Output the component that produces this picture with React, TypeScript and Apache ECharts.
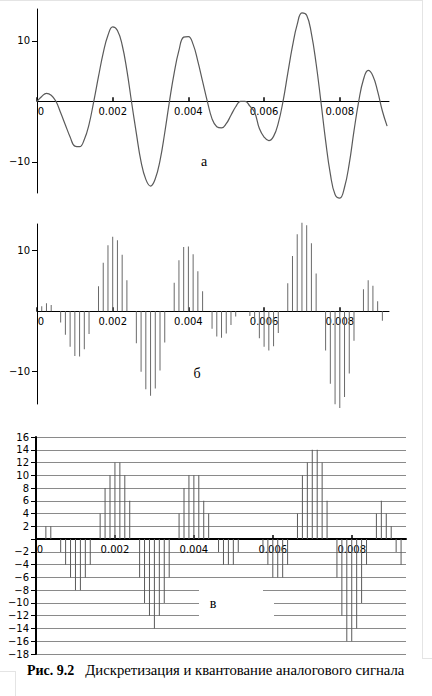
import React, { useEffect, useRef } from "react";
import * as echarts from "echarts";

// Sampling step of the discrete signal (s)
const SAMPLE_STEP = 0.000125;

// Tick values
const xTickValues = [0, 0.002, 0.004, 0.006, 0.008];
const signalTickValues = [-10, 10];

// а) analog signal, read at every sample instant (n = 0..74)
const analogValues = [
  0, 0.8, 1.3, 1.0, 0, -1.9, -3.9, -5.9, -7.4, -7.5,
  -6.3, -3.8, 0, 4.1, 8.0, 10.9, 12.3, 11.7, 9.3, 5.1,
  -0.2, -5.3, -10.0, -12.9, -14.0, -12.8, -9.8, -5.2, 0, 4.7,
  8.4, 10.6, 10.7, 9.4, 6.6, 3.3, 0, -2.9, -4.2, -4.4,
  -3.7, -2.3, -0.9, 0, 0, -0.8, -1.8, -4.5, -5.9, -6.5,
  -5.8, -3.6, 0, 4.6, 9.1, 12.7, 14.6, 14.2, 11.2, 6.2,
  0, -6.5, -12.0, -15.4, -16.0, -14.2, -10.3, -4.9, 0, 3.6,
  5.1, 4.2, 1.65, -1.6, -4.1,
];

// б) sampled values (n = 0..73)
const sampledValues = [
  0, 0.8, 1.3, 1.0, 0, -1.9, -3.9, -5.9, -7.4, -7.5,
  -6.3, -3.8, 0, 4.1, 8.0, 10.9, 12.3, 11.7, 9.3, 5.1,
  0, -5.3, -10.0, -12.9, -14.0, -12.8, -9.8, -5.2, 0, 4.7,
  8.4, 10.6, 10.7, 9.4, 6.6, 3.3, 0, -2.9, -4.2, -4.4,
  -3.7, -2.3, -0.9, 0, 0, -0.8, -1.8, -4.5, -5.9, -6.5,
  -5.8, -3.6, 0, 4.6, 9.1, 12.7, 14.6, 14.2, 11.2, 6.2,
  0, -6.5, -12.0, -15.4, -16.0, -14.2, -10.3, -4.9, 0, 3.6,
  5.1, 4.2, 1.65, -1.6,
];

// в) quantized values (n = 0..74)
const quantizedValues = [
  0, 0, 2, 2, 0, -2, -4, -6, -8, -8,
  -6, -4, 0, 4, 8, 10, 12, 12, 10, 6,
  0, -6, -10, -12, -14, -12, -10, -6, 0, 4,
  8, 10, 10, 10, 6, 4, 0, -2, -4, -4,
  -4, -2, 0, 0, 0, 0, -2, -4, -6, -6,
  -6, -4, 0, 4, 10, 12, 14, 14, 12, 6,
  0, -6, -12, -16, -16, -14, -10, -4, 0, 4,
  6, 4, 2, -2, -4,
];

const panelLabels = ["а", "б", "в"];
const captionBold = "Рис. 9.2";
const captionText = "Дискретизация и квантование аналогового сигнала";

const toPairs = (vals: number[]) => vals.map((v, i) => [i * SAMPLE_STEP, v]);
const fmtNum = (v: number) => String(v).replace("-", "\u2212");

const LABEL_FONT = "'DejaVu Sans', Verdana, sans-serif";
const SERIF = "'Liberation Serif', 'Times New Roman', serif";

// panel geometry
const grids = [
  { left: 37, top: 9, width: 352, height: 184, yMin: -15.15, yMax: 15.25, xMax: 0.0093 },
  { left: 37, top: 224, width: 352, height: 180, yMin: -15.35, yMax: 14.4, xMax: 0.0093 },
  { left: 36, top: 437, width: 370, height: 217, yMin: -18, yMax: 16, xMax: 0.009375 },
];

// shift of the x axis from the bottom of the grid up to the zero line
const zeroOffset = (g: { height: number; yMin: number; yMax: number }) =>
  -g.height * (0 - g.yMin) / (g.yMax - g.yMin);

function makeXAxis(gridIndex: number, lineWidth: number) {
  const g = grids[gridIndex];
  return {
    type: "value",
    gridIndex,
    min: 0,
    max: g.xMax,
    position: "bottom",
    offset: zeroOffset(g),
    axisLine: { show: true, onZero: false, lineStyle: { color: "#000", width: lineWidth } },
    axisTick: {
      show: true,
      inside: true,
      length: 4,
      customValues: xTickValues,
      lineStyle: { color: "#000", width: 1.5 },
    },
    axisLabel: {
      show: true,
      customValues: xTickValues,
      margin: 5,
      color: "#000",
      fontFamily: LABEL_FONT,
      fontSize: 10,
      formatter: (v: number) => (v === 0 ? "{z|0}" : fmtNum(v)),
      rich: {
        z: { padding: [0, 0, 0, 8], color: "#000", fontFamily: LABEL_FONT, fontSize: 10 },
      },
    },
    splitLine: { show: false },
  };
}

function makeSignalYAxis(gridIndex: number) {
  const g = grids[gridIndex];
  return {
    type: "value",
    gridIndex,
    min: g.yMin,
    max: g.yMax,
    axisLine: { show: true, onZero: false, lineStyle: { color: "#000", width: 1 } },
    axisTick: {
      show: true,
      length: 5,
      customValues: signalTickValues,
      lineStyle: { color: "#000", width: 1 },
    },
    axisLabel: {
      show: true,
      customValues: signalTickValues,
      margin: 7,
      color: "#000",
      fontFamily: LABEL_FONT,
      fontSize: 10,
      formatter: (v: number) => fmtNum(v),
    },
    splitLine: { show: false },
  };
}

export default function App() {
  const ref = useRef<HTMLDivElement>(null);

  useEffect(() => {
    if (!ref.current) return;
    const chart = echarts.init(ref.current, null, { renderer: "svg" });

    const option: any = {
      animation: false,
      backgroundColor: "#fff",
      grid: grids.map((g) => ({ left: g.left, top: g.top, width: g.width, height: g.height })),
      xAxis: [makeXAxis(0, 1), makeXAxis(1, 1), makeXAxis(2, 2)],
      yAxis: [
        makeSignalYAxis(0),
        makeSignalYAxis(1),
        {
          type: "value",
          gridIndex: 2,
          min: grids[2].yMin,
          max: grids[2].yMax,
          interval: 2,
          axisLine: { show: true, onZero: false, lineStyle: { color: "#000", width: 2 } },
          axisTick: { show: true, length: 5, lineStyle: { color: "#000", width: 1 } },
          axisLabel: {
            show: true,
            margin: 7,
            color: "#000",
            fontFamily: LABEL_FONT,
            fontSize: 10,
            formatter: (v: number) => (v === 0 ? "" : fmtNum(v)),
          },
          splitLine: { show: true, lineStyle: { color: "#8a8a8a", width: 1 } },
        },
      ],
      series: [
        {
          type: "line",
          xAxisIndex: 0,
          yAxisIndex: 0,
          data: toPairs(analogValues),
          smooth: 0.45,
          showSymbol: false,
          clip: false,
          lineStyle: { color: "#5a5a5a", width: 1.2 },
          z: 3,
        },
        {
          type: "bar",
          xAxisIndex: 1,
          yAxisIndex: 1,
          data: toPairs(sampledValues),
          barWidth: 1,
          clip: false,
          itemStyle: { color: "#6a6a6a" },
        },
        {
          type: "bar",
          xAxisIndex: 2,
          yAxisIndex: 2,
          data: toPairs(quantizedValues),
          barWidth: 1,
          clip: false,
          itemStyle: { color: "#5a5a5a" },
          z: 3,
        },
      ],
      graphic: [
        // faint page borders
        { type: "line", shape: { x1: 0, y1: 0.5, x2: 422, y2: 0.5 }, style: { stroke: "#e4e4e4", lineWidth: 1 }, z: 1 },
        { type: "line", shape: { x1: 422.5, y1: 0, x2: 422.5, y2: 658 }, style: { stroke: "#e4e4e4", lineWidth: 1 }, z: 1 },
        { type: "line", shape: { x1: 422, y1: 658.5, x2: 432, y2: 658.5 }, style: { stroke: "#e4e4e4", lineWidth: 1 }, z: 1 },
        { type: "line", shape: { x1: 15.5, y1: 671, x2: 15.5, y2: 696 }, style: { stroke: "#e4e4e4", lineWidth: 1 }, z: 1 },
        { type: "line", shape: { x1: 0, y1: 671.5, x2: 15, y2: 671.5 }, style: { stroke: "#e4e4e4", lineWidth: 1 }, z: 1 },
        // panel labels
        {
          type: "text",
          x: 204,
          y: 161,
          z: 100,
          style: { text: panelLabels[0], fontFamily: SERIF, fontSize: 14, fill: "#000", align: "center", verticalAlign: "middle" },
        },
        {
          type: "text",
          x: 197,
          y: 373,
          z: 100,
          style: { text: panelLabels[1], fontFamily: SERIF, fontSize: 14, fill: "#000", align: "center", verticalAlign: "middle" },
        },
        { type: "rect", z: 100, shape: { x: 199, y: 586, width: 64, height: 8 }, style: { fill: "#fff" } },
        { type: "rect", z: 100, shape: { x: 199, y: 598, width: 75, height: 22 }, style: { fill: "#fff" } },
        {
          type: "text",
          x: 213,
          y: 603,
          z: 101,
          style: { text: panelLabels[2], fontFamily: SERIF, fontSize: 14, fill: "#000", align: "center", verticalAlign: "middle" },
        },
        // caption
        {
          type: "text",
          x: 27,
          y: 670,
          z: 100,
          style: {
            text: "{b|" + captionBold + "}{r|   " + captionText + "}",
            verticalAlign: "middle",
            rich: {
              b: { fontFamily: SERIF, fontSize: 14, fontWeight: "bold", fill: "#000" },
              r: { fontFamily: SERIF, fontSize: 14.7, fill: "#000" },
            },
          },
        },
      ],
    };

    chart.setOption(option);
    return () => chart.dispose();
  }, []);

  return (
    <div
      ref={ref}
      style={{ position: "fixed", left: 0, top: 0, width: 432, height: 696, background: "#fff" }}
    />
  );
}
